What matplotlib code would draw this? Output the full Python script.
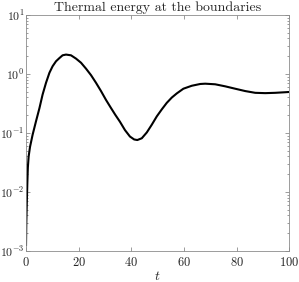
import matplotlib
matplotlib.use("Agg")
import matplotlib.pyplot as plt
from matplotlib.ticker import LogLocator, NullFormatter

plt.rcParams["font.family"] = "serif"
plt.rcParams["font.serif"] = ["cmr10"]
plt.rcParams["mathtext.fontset"] = "cm"
plt.rcParams["axes.formatter.use_mathtext"] = True

# values
t = [0, 0.1, 0.3, 0.5, 0.7, 1.0, 1.52, 2.5, 3.8, 5.1, 6.3, 7.6, 8.9, 10.1,
     11.4, 12.7, 13.9, 15.2, 17.1, 19.0, 20.9, 22.8, 24.7, 26.6, 28.5,
     30.4, 32.2, 33.9, 35.7, 37.6, 39.5, 41.1, 42.3, 44.0, 45.9, 47.8,
     49.7, 51.6, 53.5, 55.4, 57.3, 59.8, 63.0, 66.2, 68.1, 71.9, 75.7,
     79.5, 83.3, 87.1, 90.9, 94.7, 98.5, 100]
energy = [0.00126, 0.0028, 0.0065, 0.014, 0.026, 0.040, 0.058, 0.093, 0.158,
          0.263, 0.447, 0.708, 1.047, 1.35, 1.64, 1.86, 2.07, 2.13, 2.07,
          1.82, 1.55, 1.23, 0.955, 0.708, 0.513, 0.363, 0.269, 0.204, 0.155,
          0.112, 0.087, 0.0776, 0.0759, 0.0813, 0.102, 0.138, 0.191, 0.251,
          0.324, 0.398, 0.468, 0.562, 0.631, 0.676, 0.684, 0.668, 0.617,
          0.562, 0.513, 0.479, 0.473, 0.479, 0.490, 0.495]

AX_COLOR = "#8c8c8c"
TEXT_COLOR = "#262626"

fig = plt.figure(figsize=(2.99, 2.82), dpi=100)
ax = fig.add_axes([0.087, 0.110, 0.880, 0.837])

ax.plot(t, energy, color="black", lw=1.5, solid_joinstyle="round")
ax.set_yscale("log")
ax.set_xlim(0, 100)
ax.set_ylim(1e-3, 1e1)
ax.set_xticks([0, 20, 40, 60, 80, 100])
ax.yaxis.set_major_locator(LogLocator(base=10, numticks=10))
ax.yaxis.set_minor_locator(LogLocator(base=10, subs=range(2, 10), numticks=10))
ax.yaxis.set_minor_formatter(NullFormatter())

for s in ax.spines.values():
    s.set_color(AX_COLOR)
    s.set_linewidth(0.6)
ax.tick_params(which="both", direction="in", top=True, right=True,
               color=AX_COLOR, width=0.6, labelsize=9, labelcolor=TEXT_COLOR)
ax.tick_params(which="major", length=3)
ax.tick_params(which="minor", length=1.6)
ax.tick_params(axis="y", which="major", pad=1, labelsize=8.5)

ax.set_xlabel("$t$", fontsize=10, color=TEXT_COLOR, labelpad=1)
ax.set_title("Thermal energy at the boundaries", fontsize=10, color=TEXT_COLOR, pad=3)

fig.savefig("out.png", dpi=100)
